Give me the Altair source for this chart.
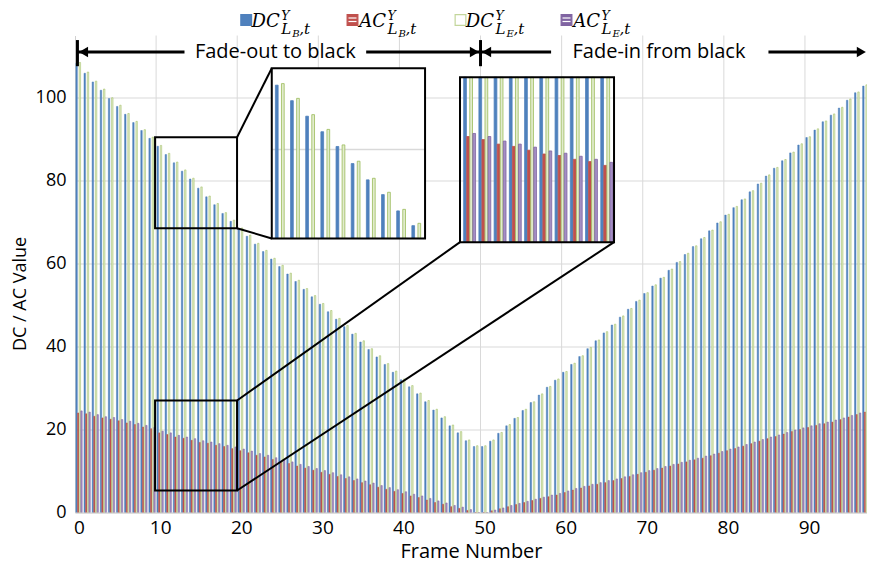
import altair as alt
import pandas as pd

# ---------------- data ----------------
frames = list(range(100))
series_keys = ["DC_LB", "AC_LB", "DC_LE", "AC_LE"]

dc_lb = [108.3, 105.9, 103.8, 101.8, 99.8, 97.9, 96.0, 94.0, 92.1, 90.2,
         88.3, 86.3, 84.3, 82.3, 80.4, 78.2, 76.1, 74.2, 72.1, 70.2,
         68.4, 66.6, 64.7, 62.9, 61.1, 59.3, 57.5, 55.7, 53.8, 52.0,
         50.2, 48.4, 46.6, 44.8, 43.0, 41.1, 39.3, 37.5, 35.7, 33.8,
         32.0, 30.3, 28.6, 26.7, 24.7, 22.8, 20.9, 19.2, 17.3, 15.9,
         15.9, 17.2, 19.1, 20.9, 22.7, 24.6, 26.5, 28.3, 30.2, 31.9,
         33.8, 35.7, 37.6, 39.5, 41.4, 43.3, 45.2, 47.1, 49.0, 50.9,
         52.8, 54.6, 56.5, 58.4, 60.3, 62.2, 64.1, 66.0, 67.9, 69.8,
         71.7, 73.5, 75.4, 77.3, 79.2, 81.1, 83.0, 84.8, 86.7, 88.6,
         90.4, 92.2, 94.2, 95.8, 97.5, 99.4, 101.2, 102.8, 104.4, 106.1]

dc_le = [108.5, 106.2, 104.0, 102.1, 100.0, 98.2, 96.2, 94.3, 92.3, 90.5,
         88.5, 86.6, 84.5, 82.6, 80.6, 78.5, 76.3, 74.5, 72.3, 70.5,
         68.6, 66.9, 64.9, 63.2, 61.3, 59.6, 57.7, 56.0, 54.0, 52.3,
         50.4, 48.7, 46.8, 45.1, 43.2, 41.4, 39.5, 37.8, 35.9, 34.1,
         32.2, 30.6, 28.8, 27.0, 24.9, 23.1, 21.1, 19.5, 17.5, 16.1,
         16.1, 17.5, 19.3, 21.2, 22.9, 24.9, 26.7, 28.6, 30.4, 32.2,
         34.0, 36.0, 37.8, 39.8, 41.6, 43.6, 45.4, 47.4, 49.2, 51.2,
         53.0, 54.9, 56.7, 58.7, 60.5, 62.5, 64.3, 66.3, 68.1, 70.1,
         71.9, 73.8, 75.6, 77.6, 79.4, 81.4, 83.2, 85.1, 86.9, 88.9,
         90.6, 92.5, 94.4, 96.1, 97.7, 99.7, 101.4, 103.1, 104.6, 106.4]

ac_lb = [24.0, 23.8, 23.2, 22.8, 22.5, 22.1, 21.6, 21.2, 20.6, 20.2,
         19.2, 18.8, 18.2, 17.9, 17.4, 16.9, 16.7, 16.2, 15.9, 15.4,
         14.9, 14.4, 13.8, 13.4, 12.8, 12.3, 11.8, 11.2, 10.7, 10.2,
         9.7, 9.2, 8.7, 8.2, 7.7, 7.2, 6.7, 6.1, 5.6, 5.1,
         4.6, 4.0, 3.6, 3.0, 2.4, 2.0, 1.4, 1.0, 0.5, 0.0,
         0.0, 0.4, 0.9, 1.4, 1.9, 2.4, 2.9, 3.4, 3.8, 4.2,
         4.8, 5.4, 5.9, 6.4, 6.8, 7.2, 7.7, 8.2, 8.7, 9.2,
         9.7, 10.2, 10.7, 11.2, 11.7, 12.2, 12.7, 13.1, 13.7, 14.3,
         14.9, 15.4, 16.0, 16.6, 17.2, 17.8, 18.3, 18.9, 19.5, 20.0,
         20.5, 21.0, 21.4, 21.8, 22.4, 23.0, 23.6, 24.2, 24.9, 25.3]

ac_le = [24.5, 24.2, 23.6, 23.1, 22.9, 22.4, 22.0, 21.5, 21.0, 20.5,
         19.6, 19.2, 18.6, 18.2, 17.8, 17.3, 17.0, 16.6, 16.2, 15.8,
         15.3, 14.8, 14.2, 13.8, 13.2, 12.7, 12.2, 11.6, 11.1, 10.6,
         10.1, 9.6, 9.1, 8.6, 8.1, 7.6, 7.1, 6.5, 6.0, 5.5,
         5.0, 4.4, 4.0, 3.4, 2.8, 2.3, 1.7, 1.3, 0.7, 0.0,
         0.0, 0.6, 1.1, 1.7, 2.2, 2.7, 3.2, 3.7, 4.2, 4.6,
         5.2, 5.8, 6.3, 6.8, 7.2, 7.7, 8.1, 8.6, 9.1, 9.6,
         10.1, 10.6, 11.1, 11.6, 12.1, 12.6, 13.1, 13.6, 14.1, 14.7,
         15.3, 15.8, 16.4, 17.0, 17.6, 18.2, 18.7, 19.3, 19.9, 20.4,
         20.9, 21.4, 21.8, 22.3, 22.8, 23.4, 24.0, 24.6, 25.2, 25.6]

x_ticks = [0, 10, 20, 30, 40, 50, 60, 70, 80, 90]
y_ticks = [0, 20, 40, 60, 80, 100]
grid_x = [9.5, 19.5, 29.5, 39.5, 49.5, 59.5, 69.5, 79.5, 89.5]

title_out = "Fade-out to black"
title_in = "Fade-in from black"

rows = []
for slot, (key, vals) in enumerate(zip(series_keys, [dc_lb, ac_lb, dc_le, ac_le])):
    for f, v in zip(frames, vals):
        rows.append({"frame": f, "series": key, "slot": slot, "value": v})
df = pd.DataFrame(rows)

# ---------------- layout ----------------
W, H = 792, 477
X_DOM = [-0.5, 97.15]
Y_DOM = [0, 115]
FONT = "Open Sans"
MATH = "DejaVu Serif"


def px(f):
    return (f - X_DOM[0]) / (X_DOM[1] - X_DOM[0]) * W


def py(v):
    return H - (v - Y_DOM[0]) / (Y_DOM[1] - Y_DOM[0]) * H


def xs_main():
    return alt.Scale(domain=X_DOM, nice=False, zero=False)


def ys_main():
    return alt.Scale(domain=Y_DOM, nice=False, zero=False)


FILL = alt.Scale(domain=series_keys, range=["#4F81BD", "#C0504D", "#E2ECCD", "#A38EC4"])
STROKE = alt.Scale(domain=series_keys, range=["#4F81BD", "#C0504D", "#9BBB59", "#8064A2"])

# inset geometry (main-chart data units)
src1 = dict(x=[9.37, 19.48], y=[68.55, 90.48])
dst1 = dict(x=[23.76, 42.66], y=[66.07, 107.11])
src2 = dict(x=[9.37, 19.48], y=[5.3, 27.0])
dst2 = dict(x=[46.97, 65.96], y=[65.18, 104.94])


def bar_base(data):
    return alt.Chart(data).transform_calculate(
        x0="datum.frame - 0.39 + datum.slot * 0.2",
        x1="datum.frame - 0.21 + datum.slot * 0.2",
        base="0",
    )


# ---- axes-only layer (drawn first, own scales identical to the main ones)
axis_df = pd.DataFrame({"x": X_DOM, "y": Y_DOM})
axes_layer = alt.Chart(axis_df).mark_point(opacity=0).encode(
    x=alt.X("x:Q", scale=xs_main(),
            axis=alt.Axis(values=x_ticks, grid=False, ticks=False, format="d",
                          title="Frame Number", labelFontSize=19, titleFontSize=20,
                          labelPadding=6, titleY=45, titleBaseline="alphabetic")),
    y=alt.Y("y:Q", scale=ys_main(),
            axis=alt.Axis(values=y_ticks, grid=True, ticks=False, format="d",
                          title="DC / AC Value", labelFontSize=18, titleFontSize=18,
                          labelPadding=9, titleX=-55, titleY=258, titleAngle=-90,
                          titleAlign="center", titleBaseline="middle")),
)

vgrid = alt.Chart(pd.DataFrame({"g": grid_x})).mark_rule(color="#D9D9D9", strokeWidth=1).encode(
    x=alt.X("g:Q", scale=xs_main(), axis=None)
)

main_bars = bar_base(df).mark_bar(clip=True, strokeWidth=0.5).encode(
    x=alt.X("x0:Q", scale=xs_main(), axis=None),
    x2="x1:Q",
    y=alt.Y("value:Q", scale=ys_main(), axis=None),
    y2="base:Q",
    fill=alt.Fill("series:N", scale=FILL, legend=None),
    stroke=alt.Stroke("series:N", scale=STROKE, legend=None),
)

# arrows / annotation in data units
ann_y = 111.0
bars_df = pd.DataFrame({"x": [-0.2, 49.5], "y0": [107.6] * 2, "y1": [113.9] * 2})
shaft_df = pd.DataFrame({"x": [-0.2, 35.4, 49.5, 85.0], "x2": [13.0, 49.5, 58.2, 96.5],
                         "y": [ann_y] * 4})
head_l = pd.DataFrame({"x": [0.55, 50.25], "y": [ann_y] * 2})
head_r = pd.DataFrame({"x": [48.75, 96.45], "y": [ann_y] * 2})
txt_df = pd.DataFrame({"x": [24.2, 71.5], "y": [ann_y] * 2, "t": [title_out, title_in]})

end_bars = alt.Chart(bars_df).mark_rule(color="black", strokeWidth=3).encode(
    x=alt.X("x:Q", scale=xs_main(), axis=None), y=alt.Y("y0:Q", scale=ys_main(), axis=None),
    y2="y1:Q")
shafts = alt.Chart(shaft_df).mark_rule(color="black", strokeWidth=3).encode(
    x=alt.X("x:Q", scale=xs_main(), axis=None), x2="x2:Q",
    y=alt.Y("y:Q", scale=ys_main(), axis=None))
heads_left = alt.Chart(head_l).mark_point(shape="triangle-left", filled=True, color="black",
                                          size=110, opacity=1).encode(
    x=alt.X("x:Q", scale=xs_main(), axis=None), y=alt.Y("y:Q", scale=ys_main(), axis=None))
heads_right = alt.Chart(head_r).mark_point(shape="triangle-right", filled=True, color="black",
                                           size=110, opacity=1).encode(
    x=alt.X("x:Q", scale=xs_main(), axis=None), y=alt.Y("y:Q", scale=ys_main(), axis=None))
ann_text = alt.Chart(txt_df).mark_text(font=FONT, fontSize=20, color="black",
                                       baseline="middle", align="center").encode(
    x=alt.X("x:Q", scale=xs_main(), axis=None), y=alt.Y("y:Q", scale=ys_main(), axis=None),
    text="t:N")

box1_fill = alt.Chart(pd.DataFrame({"x": [dst1["x"][0]], "x2": [dst1["x"][1]],
                                    "y": [dst1["y"][0]], "y2": [dst1["y"][1]]})).mark_rect(
    fill="white").encode(x=alt.X("x:Q", scale=xs_main(), axis=None), x2="x2:Q",
                         y=alt.Y("y:Q", scale=ys_main(), axis=None), y2="y2:Q")

main_layer = alt.layer(vgrid, main_bars, end_bars, shafts, heads_left, heads_right, ann_text,
                       box1_fill)


def inset(src, dst, grid_vals):
    xs = alt.Scale(domain=src["x"], range=[px(dst["x"][0]), px(dst["x"][1])], nice=False,
                   zero=False, clamp=True)
    ys = alt.Scale(domain=src["y"], range=[py(dst["y"][0]), py(dst["y"][1])], nice=False,
                   zero=False, clamp=True)
    b = bar_base(df).transform_filter("datum.frame >= 10 && datum.frame <= 19").mark_bar(
        strokeWidth=0.8).encode(
        x=alt.X("x0:Q", scale=xs, axis=None), x2="x1:Q",
        y=alt.Y("value:Q", scale=ys, axis=None), y2="base:Q",
        fill=alt.Fill("series:N", scale=FILL, legend=None),
        stroke=alt.Stroke("series:N", scale=STROKE, legend=None),
    )
    layers = []
    if grid_vals:
        g = alt.Chart(pd.DataFrame({"g": grid_vals, "a": [src["x"][0]] * len(grid_vals),
                                    "b": [src["x"][1]] * len(grid_vals)})).mark_rule(
            color="#D9D9D9", strokeWidth=1.5).encode(
            x=alt.X("a:Q", scale=xs, axis=None), x2="b:Q",
            y=alt.Y("g:Q", scale=ys, axis=None))
        layers.append(g)
    layers.append(b)
    return alt.layer(*layers)


inset1 = inset(src1, dst1, [80])
inset2 = inset(src2, dst2, [])

# boxes and connectors
boxes_df = pd.DataFrame({
    "x": [src1["x"][0], dst1["x"][0], src2["x"][0], dst2["x"][0]],
    "x2": [src1["x"][1], dst1["x"][1], src2["x"][1], dst2["x"][1]],
    "y": [src1["y"][0], dst1["y"][0], src2["y"][0], dst2["y"][0]],
    "y2": [src1["y"][1], dst1["y"][1], src2["y"][1], dst2["y"][1]],
})
conn_df = pd.DataFrame({
    "x": [src1["x"][1], src1["x"][1], src2["x"][1], src2["x"][1]],
    "y": [src1["y"][1], src1["y"][0], src2["y"][1], src2["y"][0]],
    "x2": [dst1["x"][0], dst1["x"][0], dst2["x"][0], dst2["x"][1]],
    "y2": [dst1["y"][1], dst1["y"][0], dst2["y"][0], dst2["y"][0]],
})
boxes = alt.Chart(boxes_df).mark_rect(filled=False, stroke="black", strokeWidth=2).encode(
    x=alt.X("x:Q", scale=xs_main(), axis=None), x2="x2:Q",
    y=alt.Y("y:Q", scale=ys_main(), axis=None), y2="y2:Q")
conns = alt.Chart(conn_df).mark_rule(color="black", strokeWidth=2).encode(
    x=alt.X("x:Q", scale=xs_main(), axis=None), x2="x2:Q",
    y=alt.Y("y:Q", scale=ys_main(), axis=None), y2="y2:Q")
top_layer = alt.layer(boxes, conns)

# legend (manual, with math-like sub/superscripts)
one = pd.DataFrame({"a": [0]})
leg_x = [165.7, 272.0, 380.0, 486.0]
leg_main = ["DC", "AC", "DC", "AC"]
leg_sub = ["B", "B", "E", "E"]
leg_fill = ["#4F81BD", "#C0504D", "#FFFFFF", "#8064A2"]
leg_stroke = ["#4F81BD", "#C0504D", "#C3D69B", "#8064A2"]
legend_layers = []
for i, bx in enumerate(leg_x):
    legend_layers.append(alt.Chart(one).mark_square(size=115, fill=leg_fill[i], stroke=leg_stroke[i],
                                                    strokeWidth=1.2, opacity=1).encode(
        x=alt.value(bx + 5.5), y=alt.value(-15.5)))
    if i in (1, 3):
        for dy in (-17.5, -14.0):
            legend_layers.append(alt.Chart(one).mark_rule(color="white", strokeWidth=1.2).encode(
                x=alt.value(bx + 1.5), x2=alt.value(bx + 9.5), y=alt.value(dy)))
    parts = [
        (leg_main[i], bx + 39.0, -8.5, 18, "right"),
        ("Y", bx + 40.5, -16.0, 12.5, "left"),
        ("L", bx + 40.5, -2.0, 15, "left"),
        (leg_sub[i], bx + 51.5, 1.0, 10, "left"),
        (",t", bx + 58.5, -2.0, 15, "left"),
    ]
    for txt, tx, ty, fs, al in parts:
        legend_layers.append(alt.Chart(one).mark_text(
            font=MATH, fontStyle="italic", fontSize=fs, color="black", align=al,
            baseline="alphabetic").encode(x=alt.value(tx), y=alt.value(ty), text=alt.value(txt)))
legend_layer = alt.layer(*legend_layers)

chart = alt.layer(axes_layer, main_layer, inset1, inset2, top_layer, legend_layer).resolve_scale(
    x="independent", y="independent"
).properties(
    width=W, height=H,
    autosize=alt.AutoSizeParams(type="none"),
    padding={"left": 67, "top": 27.5, "right": 0, "bottom": 48.5},
).configure_view(stroke=None).configure_axis(
    labelFont=FONT, titleFont=FONT, labelColor="black", titleColor="black",
    titleFontWeight="normal", domainColor="#D0D0D0", gridColor="#D9D9D9",
)

chart.save("out.html", embed_options={"renderer": "svg", "actions": False})
